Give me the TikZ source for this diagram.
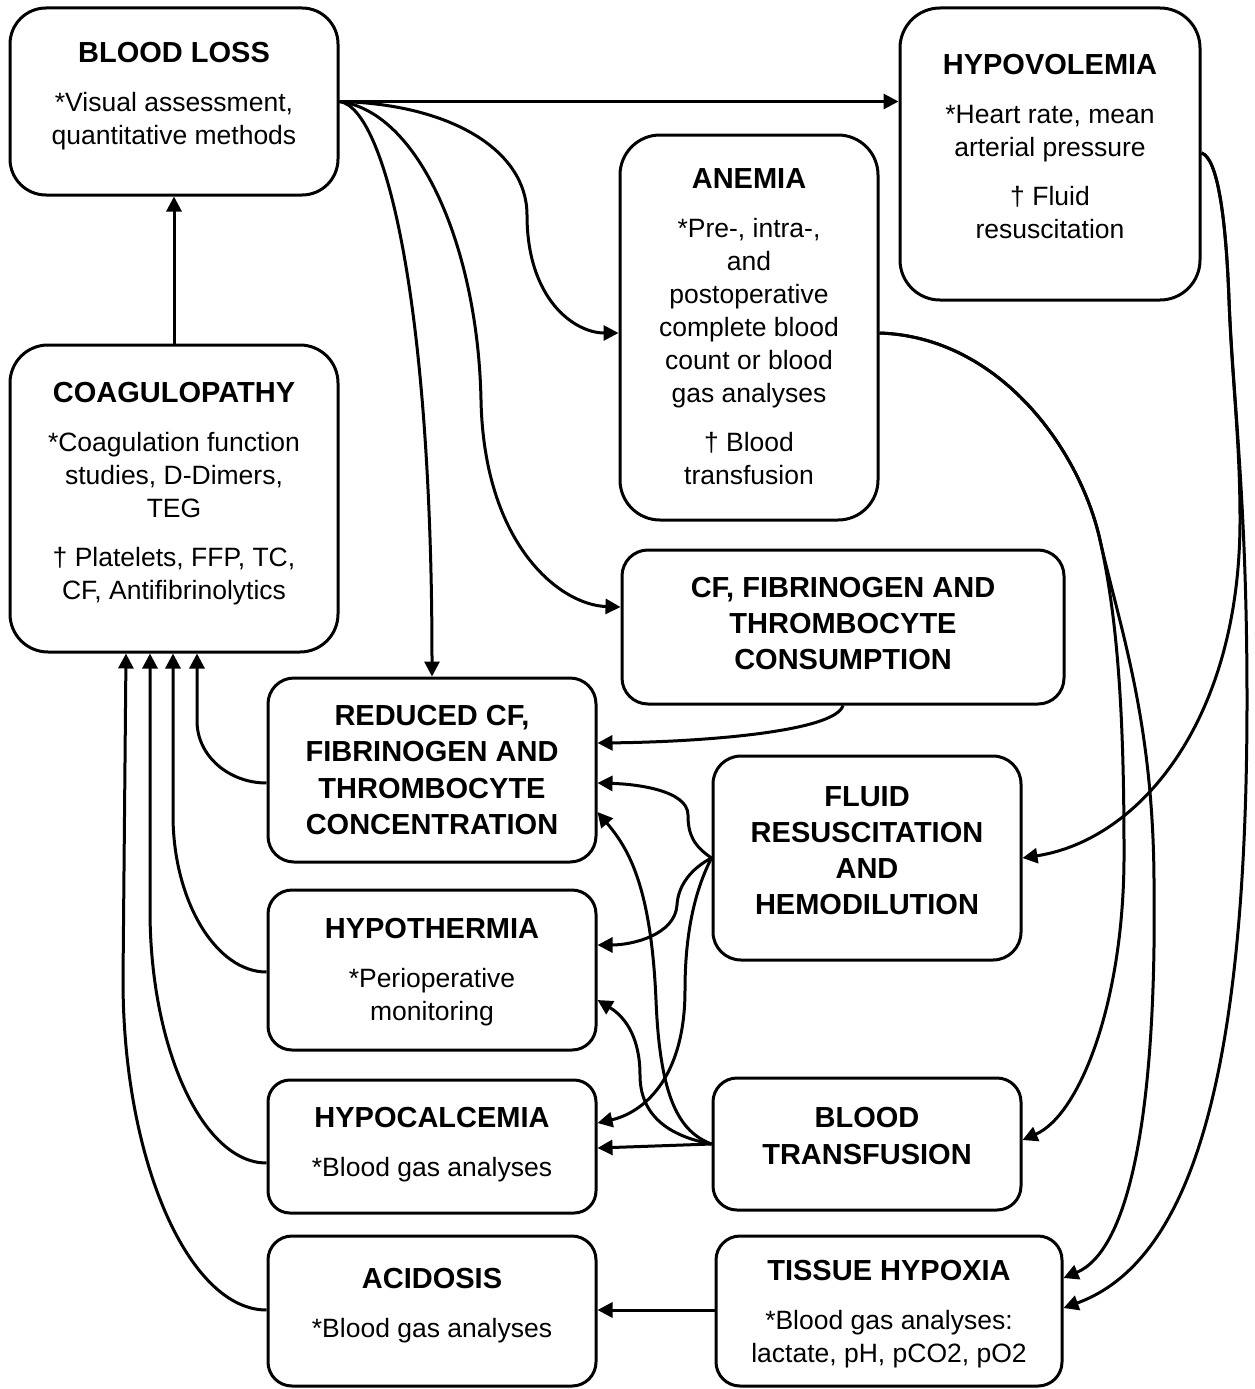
\documentclass[tikz,border=0pt]{standalone}
\usepackage{fontspec}
\setmainfont{Liberation Sans}
\usetikzlibrary{arrows.meta}
\newcommand\ttl[1]{{\fontsize{29}{33}\selectfont\bfseries #1}}
\begin{document}
\begin{tikzpicture}[x=1pt,y=-1pt,
  box/.style={draw, line width=3pt, rounded corners=#1, align=center, inner sep=0pt,
    font=\fontsize{26.5}{33}\selectfont},
  box/.default=24pt,
  bbox/.style={box=#1, font=\fontsize{29}{36.3}\selectfont\bfseries},
  bbox/.default=24pt,
  arr/.style={line width=3pt, -{Triangle[length=15pt,width=15pt]}}]
\useasboundingbox[fill=white] (0,0) rectangle (1255,1389);

% boxes
\node[box=36pt, minimum width=328pt, minimum height=187pt, text depth=15.9pt] (bloodloss) at (174,101.5)
  {\ttl{BLOOD LOSS}\\[16pt] *Visual assessment,\\ quantitative methods};
\node[box=40pt, minimum width=300pt, minimum height=292pt, text depth=14.9pt] (hypovolemia) at (1050,154)
  {\ttl{HYPOVOLEMIA}\\[16pt] *Heart rate, mean\\ arterial pressure\\[16pt] † Fluid\\ resuscitation};
\node[box=40pt, minimum width=258pt, minimum height=385pt, text depth=2pt] (anemia) at (749,327.5)
  {\ttl{ANEMIA}\\[16pt] *Pre-, intra-,\\ and\\ postoperative\\ complete blood\\ count or blood\\ gas analyses\\[16pt] † Blood\\ transfusion};
\node[box=38pt, minimum width=328pt, minimum height=307pt, text depth=15.9pt] (coag) at (174,498.5)
  {\ttl{COAGULOPATHY}\\[16pt] *Coagulation function\\ studies, D-Dimers,\\ TEG\\[16pt] † Platelets, FFP, TC,\\ CF, Antifibrinolytics};
\node[bbox=26pt, minimum width=442pt, minimum height=154pt, text depth=7pt] (consumption) at (843,627)
  {CF, FIBRINOGEN AND\\ THROMBOCYTE\\ CONSUMPTION};
\node[bbox=26pt, minimum width=328pt, minimum height=184pt, text depth=-5pt] (reduced) at (432,770)
  {REDUCED CF,\\ FIBRINOGEN AND\\ THROMBOCYTE\\ CONCENTRATION};
\node[bbox=28pt, minimum width=308pt, minimum height=204pt, text depth=15pt] (fluid) at (867,858)
  {FLUID\\ RESUSCITATION\\ AND\\ HEMODILUTION};
\node[box=24pt, minimum width=328pt, minimum height=160pt, text depth=2pt] (hypothermia) at (432,970)
  {\ttl{HYPOTHERMIA}\\[16pt] *Perioperative\\ monitoring};
\node[box=22pt, minimum width=328pt, minimum height=133pt, text depth=8.9pt] (hypocalcemia) at (432,1146.5)
  {\ttl{HYPOCALCEMIA}\\[16pt] *Blood gas analyses};
\node[bbox=24pt, minimum width=308pt, minimum height=132pt, text depth=16pt] (bt) at (867,1144)
  {BLOOD\\ TRANSFUSION};
\node[box=24pt, minimum width=328pt, minimum height=150pt, text depth=15.9pt] (acidosis) at (432,1311)
  {\ttl{ACIDOSIS}\\[16pt] *Blood gas analyses};
\node[box=24pt, minimum width=346pt, minimum height=150pt, text depth=-10.5pt] (hypoxia) at (889,1311)
  {\ttl{TISSUE HYPOXIA}\\[16pt] *Blood gas analyses:\\ lactate, pH, pCO2, pO2};

% blood loss outgoing
\draw[arr] (coag.north) -- (bloodloss.south);
\draw[arr] (bloodloss.east) -- (bloodloss.east -| hypovolemia.west);
\draw[arr] (bloodloss.east) .. controls (450,104) and (527,150) .. (527,215)
  .. controls (527,300) and (575,333) .. (anemia.west |- 0,333);
\draw[arr] (bloodloss.east) .. controls (420,112) and (478,250) .. (481,400)
  .. controls (484,545) and (560,605) .. (consumption.west |- 0,607);
\draw[arr] (bloodloss.east) .. controls (385,108) and (432,300) .. (reduced.north);

% consumption -> reduced
\draw[arr] (consumption.south) .. controls (835,732) and (700,742) .. (reduced.east |- 0,743);

% fluid outgoing
\draw[arr] (fluid.west) .. controls (694,846) and (688,835) .. (688,815)
  .. controls (688,790) and (635,784) .. (reduced.east |- 0,783);
\draw[arr] (fluid.west) .. controls (692,868) and (678,885) .. (677,905)
  .. controls (675,935) and (632,945) .. (hypothermia.east |- 0,945);
\draw[arr] (fluid.west) .. controls (696,888) and (685,930) .. (685,990)
  .. controls (685,1080) and (642,1113) .. (hypocalcemia.east |- 0,1123);

% transfusion outgoing
\draw[arr] (bt.west) .. controls (680,1132) and (660,1100) .. (656,1000)
  .. controls (651,885) and (628,848) .. (reduced.east |- 0,812);
\draw[arr] (bt.west) .. controls (668,1136) and (640,1115) .. (640,1075)
  .. controls (640,1040) and (627,1018) .. (hypothermia.east |- 0,1000);
\draw[arr] (bt.west) -- (hypocalcemia.east |- 0,1148);

% hypoxia -> acidosis
\draw[arr] (hypoxia.west |- 0,1310) -- (acidosis.east |- 0,1310);

% left side -> coagulopathy
\draw[arr] (reduced.west |- 0,783) .. controls (229,783) and (197,756) .. (197,721) -- (coag.south -| 197,0);
\draw[arr] (hypothermia.west |- 0,972) .. controls (216,972) and (173,901) .. (173,815) -- (coag.south -| 173,0);
\draw[arr] (hypocalcemia.west |- 0,1163) .. controls (203,1163) and (150,1049) .. (150,910) -- (coag.south -| 150,0);
\draw[arr] (acidosis.west |- 0,1310) .. controls (189,1310) and (123,1161) .. (123,980) -- (coag.south -| 126,0);

% anemia outgoing
\draw[arr] (anemia.east |- 0,333) .. controls (1000,337) and (1080,450) .. (1100,540)
  .. controls (1116,612) and (1124,700) .. (1124,850)
  .. controls (1125,1000) and (1080,1115) .. (bt.east |- 0,1140);
\draw[arr] (anemia.east |- 0,333) .. controls (1000,337) and (1080,450) .. (1100,540)
  .. controls (1120,628) and (1153,720) .. (1154,880)
  .. controls (1157,1110) and (1130,1250) .. (hypoxia.east |- 0,1278);

% hypovolemia outgoing
\draw[arr] (hypovolemia.east |- 0,153) .. controls (1218,158) and (1226,220) .. (1229,300)
  .. controls (1232,380) and (1240,440) .. (1240,520)
  .. controls (1240,720) and (1140,840) .. (fluid.east |- 0,858);
\draw[arr] (hypovolemia.east |- 0,153) .. controls (1218,158) and (1226,220) .. (1229,300)
  .. controls (1233,400) and (1247,500) .. (1247,700)
  .. controls (1247,1080) and (1190,1262) .. (hypoxia.east |- 0,1308);
\end{tikzpicture}
\end{document}
